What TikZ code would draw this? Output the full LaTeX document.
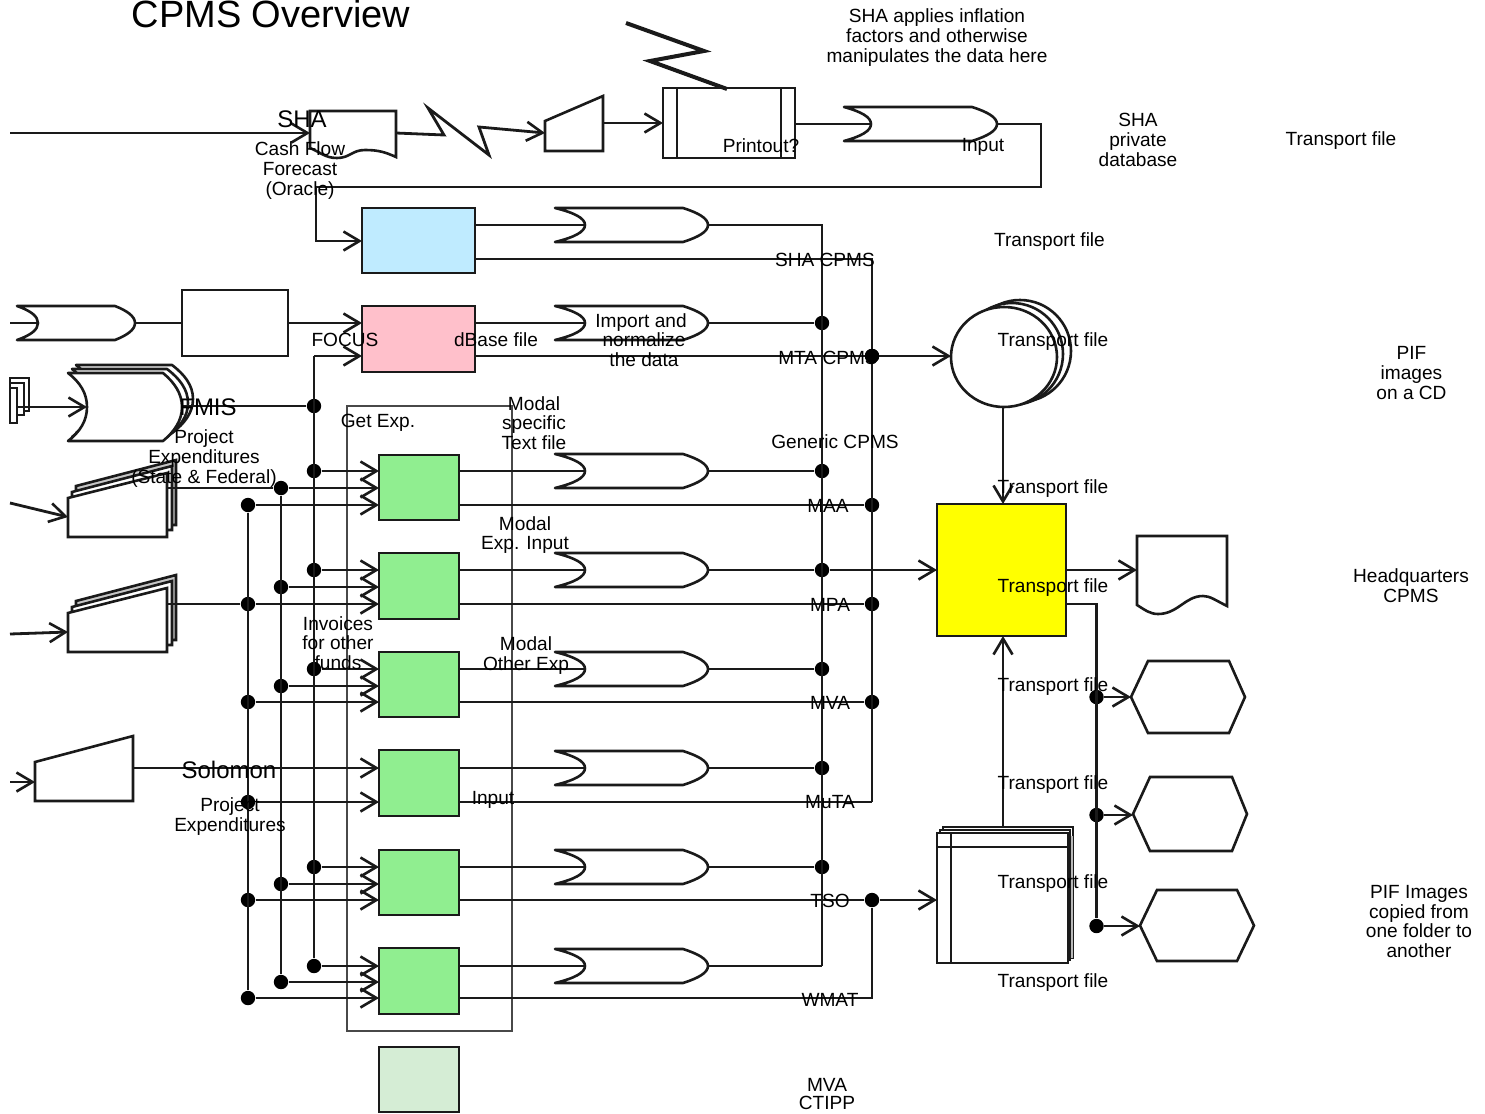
\documentclass[tikz,border=0pt]{standalone}
\usepackage{fontspec}
\setmainfont{Liberation Sans}
\usetikzlibrary{arrows.meta}
\definecolor{skyfill}{HTML}{BFEBFF}
\definecolor{pinkfill}{HTML}{FFC0CB}
\definecolor{greenfill}{HTML}{90EE90}
\definecolor{palefill}{HTML}{D5EDD5}
\definecolor{yellowfill}{HTML}{FFFF00}
\definecolor{ink}{HTML}{1A1A1A}
\tikzset{
  shp/.style={draw=ink,line width=1.3pt,fill=white,line join=miter},
  gateshp/.style={shp,line join=round},
  boxst/.style={draw=ink,line width=1.35pt,inner sep=0pt,outer sep=0pt},
  wire/.style={draw=ink,line width=1.4pt},
  arr/.style={draw=ink,line width=1.4pt,-{Straight Barb[length=8pt,width=9.5pt,line width=1.3pt]}},
  dotst/.style={circle,fill=black,draw=none,minimum size=7.2pt,inner sep=0pt},
  lblraw/.style={inner sep=0pt,outer sep=0pt,align=center,text=black},
  lbl/.style={lblraw,yshift=-1pt,font=\fontsize{9.55}{9.85}\selectfont},
  lblbig/.style={lblraw,font=\fontsize{12}{13}\selectfont},
}
% name, x0, y0, x1, y1, fill
\newcommand\pbox[6]{\node[boxst,fill=#6,minimum width={(#4-#2)*0.5pt},minimum height={(#5-#3)*0.5pt}] (#1) at ({(#2+#4)/2},{(#3+#5)/2}) {};}
% name, xleft, xnotch, xend, xright, ycentre, half height
\newcommand\gatetip[7]{%
  \pgfmathsetmacro\gt{#6-#7}%
  \pgfmathsetmacro\gb{#6+#7}%
  \pgfmathsetmacro\gA{#2+0.65*(#3-#2)}%
  \pgfmathsetmacro\gC{#4+0.6*(#5-#4)}%
  \pgfmathsetmacro\gD{#6-0.4*#7}%
  \pgfmathsetmacro\gE{#6+0.4*#7}%
  \pgfmathsetmacro\gF{#6-0.72*#7}%
  \pgfmathsetmacro\gG{#6+0.72*#7}%
  \path[gateshp] (#2,\gt) .. controls (\gA,\gF) and (#3,\gD) .. (#3,#6) .. controls (#3,\gE) and (\gA,\gG) .. (#2,\gb)
     -- (#4,\gb) .. controls (\gC,\gG) and (#5,\gE) .. (#5,#6) .. controls (#5,\gD) and (\gC,\gF) .. (#4,\gt) -- cycle;
  \coordinate (#1-in) at (#3,#6);
  \coordinate (#1-out) at (#5,#6);}
% hexagon: name, xleft, xa, xb, xright, ytop, ybot
\newcommand\hexa[7]{%
  \path[shp] (#2,{(#6+#7)/2}) -- (#3,#6) -- (#4,#6) -- (#5,{(#6+#7)/2}) -- (#4,#7) -- (#3,#7) -- cycle;
  \coordinate (#1) at (#2,{(#6+#7)/2});}
% stacked manual document: dy shift
\newcommand\mstack[2]{%
  \begin{scope}[shift={(0,#1)}]
  \path[shp,fill=gray!45] (76,486) -- (176,460) -- (176,525) -- (76,525) -- cycle;
  \path[shp] (72,492) -- (172,466) -- (172,530) -- (72,530) -- cycle;
  \path[shp] (68,498) -- (167,473) -- (167,537) -- (68,537) -- cycle;
  \coordinate (#2-w) at (68,517);
  \coordinate (#2-e) at (167,488);
  \end{scope}}
\begin{document}
\begin{tikzpicture}[x=0.5pt,y=-0.5pt]
\useasboundingbox[fill=white] (0,0) rectangle (1485,1114);

% ---------- process boxes ----------
\pbox{blue}{362}{208}{475}{273}{skyfill}
\pbox{pink}{362}{306}{475}{372}{pinkfill}
\pbox{plain}{182}{290}{288}{356}{white}
\pbox{gA}{379}{455}{459}{520}{greenfill}
\pbox{gB}{379}{553}{459}{619}{greenfill}
\pbox{gC}{379}{652}{459}{717}{greenfill}
\pbox{gD}{379}{750}{459}{816}{greenfill}
\pbox{gE}{379}{850}{459}{915}{greenfill}
\pbox{gF}{379}{948}{459}{1014}{greenfill}
\pbox{gG}{379}{1047}{459}{1112}{palefill}
\pbox{hq}{937}{504}{1066}{636}{yellowfill}

% predefined process
\pbox{print}{663}{88}{795}{158}{white}
\draw[wire] (677,88) -- (677,158);
\draw[wire] (781,88) -- (781,158);

% thin frame
\node[draw=ink!80,line width=0.75pt,inner sep=0pt,minimum width=82.5pt,minimum height=312.5pt] (frame) at (429.5,718.5) {};

% cash flow document
\path[shp] (310,111) -- (396,111) -- (396,157) .. controls (385,152) and (378,150) .. (365,150) .. controls (352,150) and (350,158) .. (337,158) .. controls (325,158) and (320,152) .. (310,148) -- cycle;
\coordinate (cash-w) at (310,133);
\coordinate (cash-e) at (396,133);
% report document
\path[shp] (1137,536) -- (1227,536) -- (1227,606) .. controls (1215,600) and (1210,596) .. (1203,596) .. controls (1185,596) and (1178,614) .. (1158,614) .. controls (1150,614) and (1145,610) .. (1137,605) -- cycle;
\coordinate (report-w) at (1137,570);

% manual inputs
\path[shp] (545,121) -- (603,96) -- (603,151) -- (545,151) -- cycle;
\coordinate (miA-w) at (545,133);
\coordinate (miA-e) at (603,123);
\path[shp] (35,762) -- (133,736) -- (133,801) -- (35,801) -- cycle;
\coordinate (miB-w) at (35,782);
\coordinate (miB-e) at (133,768);

% OR-like gates
\gatetip{g0}{844}{871}{972}{997}{124}{17}
\gatetip{g1}{555}{585}{683}{708}{225}{17}
\gatetip{g2}{555}{585}{683}{708}{323}{17}
\gatetip{g3}{555}{585}{683}{708}{471}{17}
\gatetip{g4}{555}{585}{683}{708}{570}{17}
\gatetip{g5}{555}{585}{683}{708}{669}{17}
\gatetip{g6}{555}{585}{683}{708}{768}{17}
\gatetip{g7}{555}{585}{683}{708}{867}{17}
\gatetip{g8}{555}{585}{683}{708}{966}{17}
\gatetip{g9}{17}{38}{115}{135}{323}{17}
\gatetip{fm3}{76}{95}{172}{193}{399}{34}
\gatetip{fm2}{72}{91}{167}{188}{403}{34}
\gatetip{fm1}{68}{87}{163}{182}{407}{34}

% small tape stack on the far left
\draw[shp] (10,378) rectangle (29,411);
\draw[shp] (10,383) rectangle (24,415);
\draw[shp] (10,388) rectangle (17,423);
\coordinate (tape-e) at (17,407);

% manual document stacks
\mstack{0}{stA}
\mstack{115}{stB}

% disk stack
\draw[shp] (1020,351) ellipse (51 and 51);
\draw[shp] (1012,354) ellipse (51 and 51);
\draw[shp] (1004,357) ellipse (53 and 50);
\coordinate (disk-w) at (951,356);
\coordinate (disk-s) at (1003,407);

% internal storage stack
\draw[shp] (943,827) rectangle (1073,958);
\path[fill=gray!55] (1068,836) rectangle (1073,958);
\draw[shp] (940,830) rectangle (1070,960);
\draw[shp] (937,833) rectangle (1068,963);
\draw[wire] (937,847) -- (1068,847);
\draw[wire] (951,833) -- (951,963);
\coordinate (store-w) at (937,900);
\coordinate (store-n) at (1003,827);

% hexagons
\hexa{hexA}{1131}{1148}{1229}{1245}{661}{733}
\hexa{hexB}{1133}{1150}{1232}{1247}{777}{851}
\hexa{hexC}{1140}{1157}{1237}{1254}{890}{961}

% ---------- junction dots ----------
\foreach \nm/\px/\py in {
  ja/314/406,jb/314/471,jc/314/570,jd/314/669,je/314/867,jf/314/966,
  ka/281/488,kb/281/587,kc/281/686,kd/281/884,ke/281/982,
  la/248/505,lb/248/604,lc/248/702,ld/248/802,le/248/900,lf/248/998,
  ma/822/323,mb/822/471,mc/822/570,md/822/669,me/822/768,mf/822/867,
  na/872/356,nb/872/505,nc/872/604,nd/872/702,ne/872/900,
  pa/1096.5/697,pb/1096.5/815,pc/1096.5/926}
  {\node[dotst] (\nm) at (\px,\py) {};}
\coordinate (bus-top) at (822,225);
\coordinate (bus-bot) at (822,966);
\coordinate (bus2-top) at (872,259);
\coordinate (bus2-bot) at (872,802);
\coordinate (bus3-bot) at (872,998);
\coordinate (j-top) at (314,356);
\coordinate (edge-a) at (10,133);
\coordinate (edge-b) at (10,323);
\coordinate (edge-c) at (10,503);
\coordinate (edge-d) at (10,634);
\coordinate (edge-e) at (10,782);
\coordinate (fb-a) at (1041,124);
\coordinate (fb-b) at (1041,187);
\coordinate (fb-c) at (316,187);
\coordinate (fb-d) at (316,241);
\coordinate (z-top) at (626,23);
\coordinate (z-bot) at (727,89);
\coordinate (out-a) at (1096.5,604);

% ---------- connectors ----------
\draw[arr] (edge-a) -- (cash-w);
\draw[arr] (cash-e) -- (444,135) -- (428,108) -- (489,155) -- (479,127) -- (miA-w);
\draw[arr] (miA-e) -- (miA-e -| print.west);
\draw[wire,line width=2pt] (z-top) -- (704,51) -- (650,61) -- (z-bot);
\draw[wire] (print.east |- g0-in) -- (g0-in);
\draw[wire] (g0-out) -- (fb-a) -- (fb-b) -- (fb-c);
\draw[arr] (fb-c) -- (fb-d) -- (fb-d -| blue.west);
\draw[wire] (blue.east |- g1-in) -- (g1-in);
\draw[wire] (g1-out) -- (bus-top) -- (bus-bot);
\draw[wire] (blue.east |- bus2-top) -- (bus2-top) -- (bus2-bot);
\draw[wire] (pink.east |- g2-in) -- (g2-in);
\draw[wire] (g2-out) -- (ma);
\draw[arr] (pink.east |- na) -- (disk-w);
\draw[wire] (edge-b) -- (g9-in);
\draw[wire] (g9-out) -- (g9-out -| plain.west);
\draw[arr] (plain.east |- g2-in) -- (g2-in -| pink.west);
\draw[arr] (tape-e) -- (fm1-in);
\draw[wire] (ja -| fm1-out) -- (ja);
\draw[wire] (j-top) -- (jf);
\draw[arr] (j-top) -- (j-top -| pink.west);
\draw[arr] (edge-c) -- (stA-w);
\draw[arr] (edge-d) -- (stB-w);
\draw[arr] (edge-e) -- (miB-w);
\draw[wire] (ka -| stA-e) -- (ka);
\draw[wire] (lb -| stB-e) -- (lb);
\draw[wire] (ka) -- (ke);
\draw[wire] (la) -- (lf);
% into green boxes
\foreach \src/\dst in {jb/gA,ka/gA,la/gA,jc/gB,kb/gB,lb/gB,jd/gC,kc/gC,lc/gC,ld/gD,je/gE,kd/gE,le/gE,jf/gF,ke/gF,lf/gF}
  {\draw[arr] (\src) -- (\src -| \dst.west);}
\draw[arr] (miB-e) -- (miB-e -| gD.west);
% out of green boxes
\draw[wire] (gA.east |- g3-in) -- (g3-in);
\draw[wire] (gB.east |- g4-in) -- (g4-in);
\draw[wire] (gC.east |- g5-in) -- (g5-in);
\draw[wire] (gD.east |- g6-in) -- (g6-in);
\draw[wire] (gE.east |- g7-in) -- (g7-in);
\draw[wire] (gF.east |- g8-in) -- (g8-in);
\draw[wire] (g3-out) -- (mb);
\draw[wire] (g4-out) -- (mc);
\draw[wire] (g5-out) -- (md);
\draw[wire] (g6-out) -- (me);
\draw[wire] (g7-out) -- (mf);
\draw[wire] (g8-out) -- (bus-bot);
\draw[wire] (gA.east |- nb) -- (nb);
\draw[wire] (gB.east |- nc) -- (nc);
\draw[wire] (gC.east |- nd) -- (nd);
\draw[wire] (gD.east |- bus2-bot) -- (bus2-bot);
\draw[wire] (gE.east |- ne) -- (ne);
\draw[wire] (gF.east |- bus3-bot) -- (bus3-bot) -- (ne);
\draw[arr] (ne) -- (store-w);
\draw[arr] (mc) -- (mc -| hq.west);
\draw[arr] (disk-s) -- (disk-s |- hq.north);
\draw[arr] (store-n) -- (store-n |- hq.south);
\draw[arr] (report-w -| hq.east) -- (report-w);
\draw[wire] (out-a -| hq.east) -- (out-a) -- (pc);
\draw[arr] (pa) -- (hexA);
\draw[arr] (pb) -- (pb -| hexB);
\draw[arr] (pc) -- (pc -| hexC);

% ---------- labels ----------
\node[lblraw,font=\fontsize{19}{20}\selectfont] (tTitle) at (271,14) {CPMS Overview};
\node[lblbig] (tSHA) at (302,119) {SHA};
\node[lbl] (tCash) at (300,168.5) {Cash Flow\\Forecast\\(Oracle)};
\node[lbl] (tApply) at (937,35.5) {SHA applies inflation\\factors and otherwise\\manipulates the data here};
\node[lbl] (tPriv) at (1138,138) {SHA\\private\\database};
\node[lbl] (tTr0) at (1341,139) {Transport file};
\node[lbl] (tPrint) at (761,143.5) {Printout?};
\node[lbl] (tInput) at (983,145) {Input};
\node[lbl] (tTr1) at (1049.5,240) {Transport file};
\node[lbl] (tShaC) at (825,258) {SHA CPMS};
\node[lbl] (tFocus) at (345,338) {FOCUS};
\node[lbl] (tDbase) at (496,338) {dBase file};
\node[lbl] (tImport) at (644,338) {Import and\hspace*{3pt}\\normalize\\the data};
\node[lbl] (tMta) at (828,356) {MTA CPMS};
\node[lbl] (tTr2) at (1053,340) {Transport file};
\node[lbl] (tTr3) at (1053,487) {Transport file};
\node[lbl] (tTr4) at (1053,586) {Transport file};
\node[lbl] (tTr5) at (1053,685) {Transport file};
\node[lbl] (tTr6) at (1053,783) {Transport file};
\node[lbl] (tTr7) at (1053,882) {Transport file};
\node[lbl] (tTr8) at (1053,981) {Transport file};
\node[lbl] (tPif) at (1411.5,371) {PIF\\images\\on a CD};
\node[lblbig] (tFmis) at (208,407) {FMIS};
\node[lbl] (tProj) at (204,456.5) {Project\\Expenditures\\(State \& Federal)};
\node[lbl] (tGet) at (378,421) {Get Exp.};
\node[lbl] (tModal) at (534,421) {Modal\\specific\\Text file};
\node[lbl] (tGen) at (835,440) {Generic CPMS};
\node[lbl] (tMaa) at (828,504) {MAA};
\node[lbl] (tMpa) at (830,603) {MPA};
\node[lbl] (tMva) at (830,701) {MVA};
\node[lbl] (tMuta) at (830,800) {MuTA};
\node[lbl] (tTso) at (830,899) {TSO};
\node[lbl] (tWmat) at (830,997.5) {WMAT};
\node[lbl] (tModB) at (525,533) {Modal\\Exp. Input};
\node[lbl] (tModC) at (526,653.5) {Modal\\Other Exp};
\node[lbl] (tInv) at (338,641) {Invoices\\for other\\funds};
\node[lblbig] (tSol) at (229,770) {Solomon};
\node[lbl] (tProjB) at (230,814.5) {Project\\Expenditures};
\node[lbl] (tInB) at (493,798) {Input};
\node[lbl] (tHq) at (1411,584) {Headquarters\\CPMS};
\node[lbl] (tCopy) at (1419,919.5) {PIF Images\\copied from\\one folder to\\another};
\node[lbl,font=\fontsize{9.55}{9}\selectfont] (tCtipp) at (827,1092) {MVA\\CTIPP};
\node[dotst] (naTop) at (na) {};
\end{tikzpicture}
\end{document}
